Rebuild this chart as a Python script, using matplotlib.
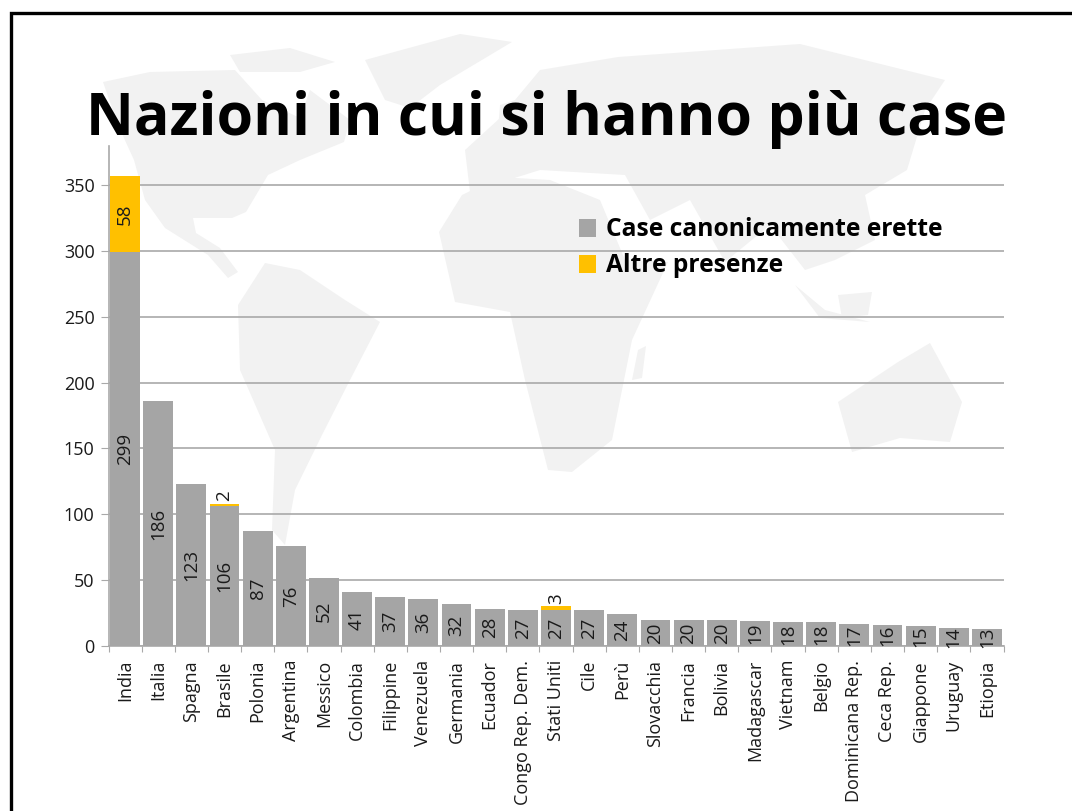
import numpy as np
import matplotlib.pyplot as plt
from matplotlib.patches import Polygon, Rectangle

plt.rcParams['font.family'] = ['Open Sans', 'DejaVu Sans']

countries = ['India', 'Italia', 'Spagna', 'Brasile', 'Polonia', 'Argentina', 'Messico',
             'Colombia', 'Filippine', 'Venezuela', 'Germania', 'Ecuador', 'Congo Rep. Dem.',
             'Stati Uniti', 'Cile', 'Perù', 'Slovacchia', 'Francia', 'Bolivia', 'Madagascar',
             'Vietnam', 'Belgio', 'Dominicana Rep.', 'Ceca Rep.', 'Giappone', 'Uruguay', 'Etiopia']
canoniche = [299, 186, 123, 106, 87, 76, 52, 41, 37, 36, 32, 28, 27, 27, 27, 24,
             20, 20, 20, 19, 18, 18, 17, 16, 15, 14, 13]
altre = [58, 0, 0, 2, 0, 0, 0, 0, 0, 0, 0, 0, 0, 3, 0, 0,
         0, 0, 0, 0, 0, 0, 0, 0, 0, 0, 0]
y_ticks = [0, 50, 100, 150, 200, 250, 300, 350]

GREY = '#a5a5a5'
GOLD = '#ffc000'
W, H = 1072, 811

# rough world map behind the chart, in image pixels
continents = [
    [(103, 82), (150, 72), (235, 70), (262, 100), (300, 118), (310, 90), (350, 120), (344, 142),
     (300, 160), (268, 175), (246, 212), (232, 218), (193, 218), (196, 233), (220, 248),
     (238, 272), (228, 278), (208, 255), (165, 228), (145, 200), (134, 160), (118, 125)],
    [(230, 55), (290, 48), (335, 62), (300, 72), (240, 72)],
    [(365, 60), (460, 34), (512, 42), (440, 85), (410, 108), (385, 100)],
    [(238, 305), (265, 263), (300, 270), (345, 300), (380, 322), (350, 380), (322, 435),
     (295, 490), (285, 545), (272, 530), (275, 450), (240, 370)],
    [(439, 232), (462, 195), (499, 177), (550, 180), (600, 200), (625, 260), (668, 262),
     (632, 340), (612, 440), (572, 472), (548, 470), (525, 380), (510, 312), (455, 302)],
    [(465, 150), (500, 118), (540, 70), (618, 57), (800, 44), (945, 80), (925, 110), (907, 170),
     (865, 195), (875, 240), (835, 260), (805, 270), (770, 225), (725, 262), (690, 200),
     (650, 220), (625, 175), (540, 170), (470, 192)],
    [(838, 402), (898, 362), (930, 343), (962, 402), (950, 442), (900, 438), (852, 452)],
    [(638, 350), (646, 346), (642, 378), (632, 380)],
    [(795, 285), (825, 310), (870, 322), (820, 318)],
    [(838, 295), (872, 292), (868, 315), (842, 318)],
    [(500, 105), (515, 100), (512, 130), (498, 130)],
]

fig = plt.figure(figsize=(W / 100, H / 100), dpi=100)

bg = fig.add_axes([0, 0, 1, 1])
bg.set_xlim(0, W)
bg.set_ylim(H, 0)
bg.axis('off')
for c in continents:
    bg.add_patch(Polygon(c, closed=True, fc='#f2f2f2', ec='none'))
# slide frame, left and top only
bg.plot([10.5, 10.5, W], [H, 12.5, 12.5], color='black', lw=2.4, solid_joinstyle='miter')
bg.text(547, 135, 'Nazioni in cui si hanno più case', fontsize=42.5, fontweight='bold',
        ha='center', va='baseline', color='black')
# legend
bg.add_patch(Rectangle((579, 219), 17, 18, fc=GREY, ec='none'))
bg.add_patch(Rectangle((579, 255), 17, 18, fc=GOLD, ec='none'))
bg.text(606, 229, 'Case canonicamente erette', fontsize=17.7, fontweight='bold', va='center')
bg.text(606, 265, 'Altre presenze', fontsize=17.7, fontweight='bold', va='center')

ax = fig.add_axes([108.5 / W, 1 - 646 / H, (1003.5 - 108.5) / W, 500 / H])
ax.patch.set_alpha(0)
x = np.arange(len(countries))
ax.bar(x, canoniche, width=0.9, color=GREY, zorder=3)
ax.bar(x, altre, width=0.9, bottom=canoniche, color=GOLD, zorder=3)
ax.set_xlim(-0.5, len(countries) - 0.5)
ax.set_ylim(0, 500 / (461 / 350))

ax.set_yticks(y_ticks)
ax.set_xticks(np.arange(len(countries) + 1) - 0.5, minor=False)
ax.set_xticklabels([])
ax.grid(axis='y', color='#a9a9a9', lw=1.2, zorder=1)
ax.tick_params(axis='y', length=6, color='#a9a9a9', labelsize=13, pad=4, labelcolor='#1a1a1a')
ax.tick_params(axis='x', length=4, color='#a9a9a9')
for s in ['top', 'right']:
    ax.spines[s].set_visible(False)
for s in ['left', 'bottom']:
    ax.spines[s].set_color('#a9a9a9')
    ax.spines[s].set_linewidth(1.2)

for i, name in enumerate(countries):
    ax.annotate(name, (i, 0), xytext=(0, -10), textcoords='offset points', rotation=90,
                ha='center', va='top', fontsize=13, color='#1a1a1a')
    ax.text(i, canoniche[i] / 2, str(canoniche[i]), rotation=90, ha='center', va='center',
            fontsize=13.5, color='#1a1a1a', zorder=4)
    if altre[i] > 10:
        ax.text(i, canoniche[i] + altre[i] / 2, str(altre[i]), rotation=90, ha='center',
                va='center', fontsize=13.5, color='#1a1a1a', zorder=4)
    elif altre[i] > 0:
        ax.annotate(str(altre[i]), (i, canoniche[i] + altre[i]), xytext=(0, 2),
                    textcoords='offset points', rotation=90, ha='center', va='bottom',
                    fontsize=13.5, color='#1a1a1a', zorder=4)

fig.savefig('out.png', dpi=100)
